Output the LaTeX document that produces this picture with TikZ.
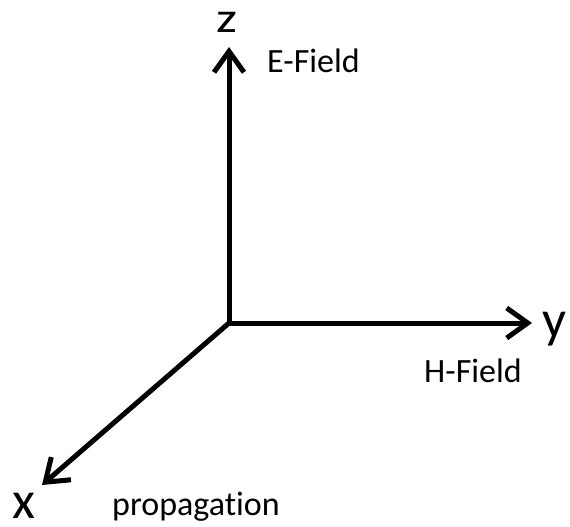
\documentclass[tikz,border=0pt]{standalone}
\usepackage{fontspec}
\setmainfont{Carlito}[Ligatures={NoCommon}]
\usetikzlibrary{arrows.meta}

\begin{document}
\begin{tikzpicture}[
  x=1pt,y=-1pt,
  axis/.style={line width=5pt,-{Straight Barb[length=21pt,width=30pt]}},
  axlabel/.style={inner sep=0pt,anchor=base west,font=\fontsize{53}{60}\selectfont},
  fieldlabel/.style={inner sep=0pt,anchor=base west,font=\fontsize{34}{40}\selectfont}
]
  \useasboundingbox (0,0) rectangle (570,527);
  \coordinate (o) at (229,323);
  \coordinate (zend) at (229,47);
  \coordinate (yend) at (532,323);
  \coordinate (xend) at (42,485);
  \draw[axis] (o) -- (zend);
  \draw[axis] (o) -- (yend);
  \draw[axis] (o) -- (xend);
  \node[axlabel,yscale=0.8] (zlab) at (216,33) {z};
  \node[axlabel] (ylab) at (542,337) {y};
  \node[axlabel] (xlab) at (12,518) {x};
  \node[fieldlabel] (efield) at (267,72) {E-Field};
  \node[fieldlabel] (hfield) at (424,382) {H-Field};
  \node[fieldlabel] (prop) at (112,515) {propagation};
\end{tikzpicture}
\end{document}
